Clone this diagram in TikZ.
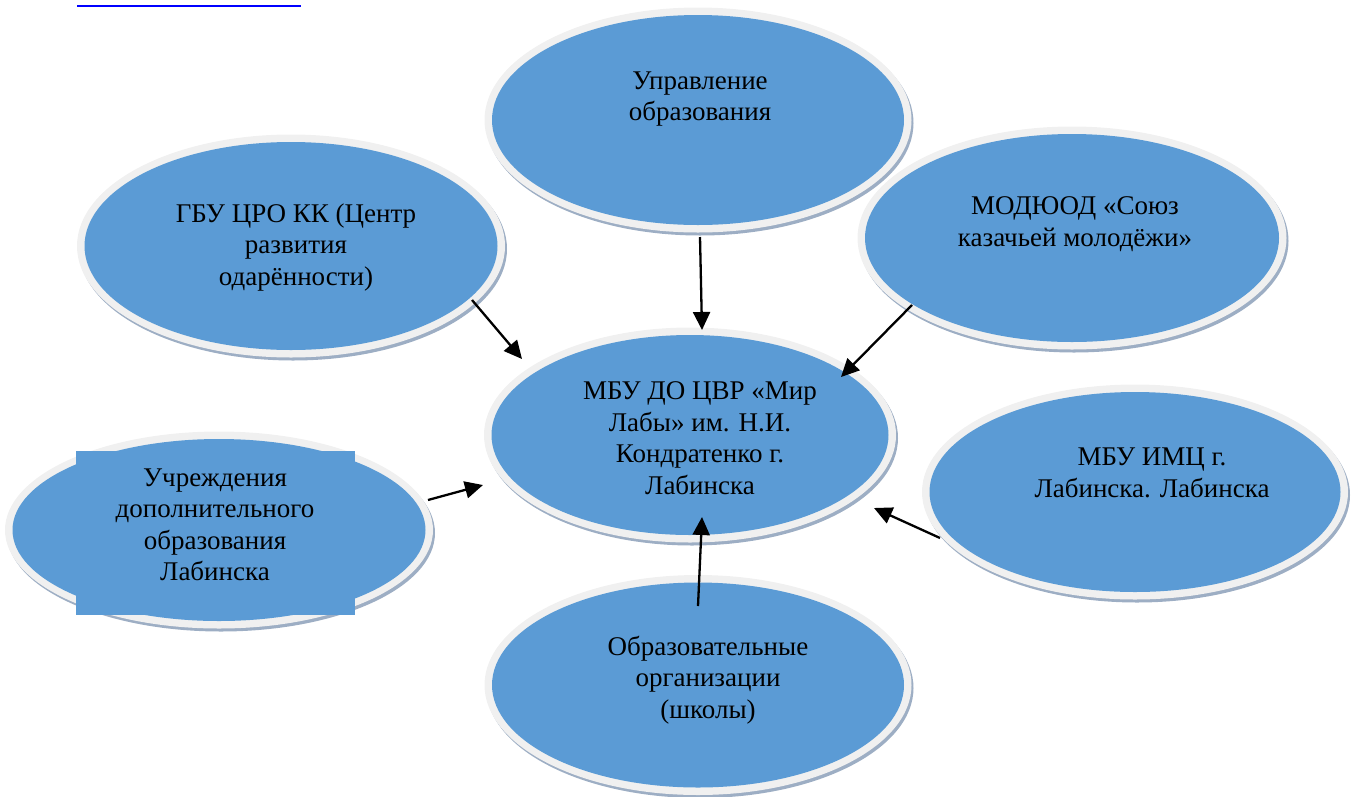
\documentclass[tikz,border=0pt]{standalone}
\usepackage{fontspec}
\setmainfont{Liberation Serif}
\usetikzlibrary{shapes.geometric,arrows.meta,shadows}
\definecolor{fillblue}{HTML}{5B9BD5}
\definecolor{ringgrey}{HTML}{F0F0F0}
\definecolor{shadowc}{HTML}{9DAEC4}
\definecolor{linkblue}{HTML}{0000FF}
\tikzset{
 ring/.style={ellipse, fill=ringgrey, draw=none, inner sep=0pt,
   drop shadow={shadow xshift=2pt, shadow yshift=-3pt, fill=shadowc, opacity=1}},
 core/.style={ellipse, fill=fillblue, draw=none, inner sep=0pt},
 lbl/.style={align=center, font=\fontsize{27}{31.5}\selectfont, inner sep=0pt, text=black},
 arr/.style={line width=2.3pt, -{Triangle[length=18pt,width=17pt]}},
}
\begin{document}
\begin{tikzpicture}[x=1pt,y=-1pt]
\useasboundingbox (0,0) rectangle (1357,796);
% link underline (cut off at top)
\fill[linkblue] (77,4.5) rectangle (301,6.8);
% ellipses
\node[ring, minimum width=427pt, minimum height=225pt] (e1) at (698,120) {};
\node[core, minimum width=412pt, minimum height=210pt] (c1) at (e1.center) {};
\node[ring, minimum width=428pt, minimum height=223pt] (e2) at (291,246) {};
\node[core, minimum width=413pt, minimum height=208pt] (c2) at (e2.center) {};
\node[ring, minimum width=429pt, minimum height=223pt] (e3) at (1072,238) {};
\node[core, minimum width=414pt, minimum height=208pt] (c3) at (e3.center) {};
\node[ring, minimum width=412pt, minimum height=215pt] (e4) at (690,435) {};
\node[core, minimum width=397pt, minimum height=200pt] (c4) at (e4.center) {};
\node[ring, minimum width=428pt, minimum height=197pt] (e5) at (219,530) {};
\node[core, minimum width=413pt, minimum height=182pt] (c5) at (e5.center) {};
\node[ring, minimum width=426pt, minimum height=215pt] (e6) at (1135,492) {};
\node[core, minimum width=411pt, minimum height=200pt] (c6) at (e6.center) {};
\node[ring, minimum width=427pt, minimum height=220pt] (e7) at (698,685) {};
\node[core, minimum width=412pt, minimum height=205pt] (c7) at (e7.center) {};
% text box of the left ellipse
\fill[fillblue] (76,451) rectangle (355,615);
% labels
\node[lbl] (t1) at (700,99) {Управление\\образования};
\node[lbl] (t2) at (296,247) {ГБУ ЦРО КК (Центр\\развития\\одарённости)};
\node[lbl] (t3) at (1075,224) {МОДЮОД «Союз\\казачьей молодёжи»};
\node[lbl] (t4) at (700,438) {МБУ ДО ЦВР «Мир\\Лабы» им. Н.И.\\Кондратенко г.\\Лабинска};
\node[lbl] (t5) at (215,525) {Учреждения\\дополнительного\\образования\\Лабинска};
\node[lbl] (t6) at (1152,473) {МБУ ИМЦ г.\\Лабинска. Лабинска};
\node[lbl] (t7) at (708,680) {Образовательные\\организации\\(школы)};
% arrow end points
\coordinate (a1s) at (700,237); \coordinate (a1e) at (702,330);
\coordinate (a2s) at (472,300); \coordinate (a2e) at (522,359);
\coordinate (a3s) at (912,305); \coordinate (a3e) at (841,377);
\coordinate (a4s) at (428,500); \coordinate (a4e) at (483,485);
\coordinate (a5s) at (940,538); \coordinate (a5e) at (874,508);
\coordinate (a6s) at (698,606); \coordinate (a6e) at (702,517);
\draw[arr] (a1s) -- (a1e);
\draw[arr] (a2s) -- (a2e);
\draw[arr] (a3s) -- (a3e);
\draw[arr] (a4s) -- (a4e);
\draw[arr] (a5s) -- (a5e);
\draw[arr] (a6s) -- (a6e);
\end{tikzpicture}
\end{document}
